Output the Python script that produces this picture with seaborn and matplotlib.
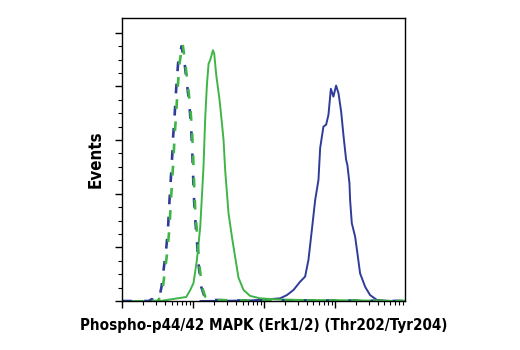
import numpy as np
import pandas as pd
import matplotlib
matplotlib.use("Agg")
import matplotlib.pyplot as plt
from matplotlib.ticker import LogLocator, FixedLocator, NullFormatter
from matplotlib import font_manager
import seaborn as sns

# ---- data (x: log10 fluorescence intensity, y: events) ----
ctrl_green_log = [0.26, 0.50, 0.549, 0.577, 0.610, 0.642, 0.670, 0.690, 0.713, 0.727, 0.741, 0.761,
                  0.783, 0.811, 0.854, 0.892, 0.930, 0.962, 0.986, 1.000, 1.008, 1.018, 1.032,
                  1.065, 1.093, 1.127, 1.173, 1.244, 1.60, 2.5, 3.99]
ctrl_green_cnt = [0.0, 0.0, 1.6, 5.3, 12.4, 19.0, 27.7, 37.7, 47.6, 53.8, 61.3, 68.8,
                  78.7, 88.7, 95.9, 88.7, 80.0, 72.5, 63.8, 56.3, 50.1, 42.6, 34.0,
                  22.8, 12.8, 5.3, 1.6, 0.4, 0.2, 0.2, 0.0]

ctrl_blue_log = [0.0, 0.38, 0.42, 0.46, 0.529, 0.557, 0.590, 0.622, 0.650, 0.670, 0.693, 0.707, 0.721,
                 0.741, 0.763, 0.791, 0.840, 0.882, 0.920, 0.952, 0.976, 0.990, 0.998, 1.008,
                 1.022, 1.055, 1.083, 1.117, 1.163, 1.234, 1.60, 2.5, 3.99]
ctrl_blue_cnt = [0.0, 0.0, 0.7, 0.0, 1.6, 5.3, 12.4, 19.0, 27.7, 37.7, 47.6, 53.8, 61.3,
                 68.8, 78.7, 88.7, 95.0, 88.7, 80.0, 72.5, 63.8, 56.3, 50.1, 42.6,
                 34.0, 22.8, 12.8, 5.3, 1.6, 0.4, 0.2, 0.2, 0.0]

trt_green_log = [0.0, 0.539, 0.906, 0.962, 1.008, 1.056, 1.103, 1.149, 1.173, 1.197, 1.220, 1.244,
                 1.282, 1.300, 1.328, 1.375, 1.408, 1.431, 1.455, 1.501, 1.549, 1.596, 1.642,
                 1.713, 1.806, 1.946, 2.183, 2.511, 3.356, 3.99]
trt_green_cnt = [0.0, 0.0, 1.5, 4.1, 6.7, 15.3, 27.7, 50.1, 68.3, 80.6, 88.4, 89.9,
                 93.5, 92.2, 84.3, 75.0, 66.4, 60.1, 48.5, 32.8, 24.0, 16.2, 8.7,
                 4.1, 1.9, 1.0, 0.6, 0.4, 0.2, 0.0]

trt_blue_log = [1.103, 1.807, 2.088, 2.229, 2.324, 2.417, 2.511, 2.581, 2.628, 2.676, 2.723, 2.769,
                2.793, 2.839, 2.877, 2.910, 2.944, 2.980, 3.018, 3.051, 3.089, 3.121, 3.159,
                3.177, 3.206, 3.215, 3.239, 3.286, 3.318, 3.356, 3.427, 3.497, 3.592, 3.779, 3.99]
trt_blue_cnt = [0.0, 0.2, 0.7, 1.0, 2.2, 4.1, 7.2, 9.1, 15.3, 26.5, 37.7, 45.1,
                57.0, 65.0, 65.7, 69.4, 79.1, 76.2, 80.3, 77.5, 70.6, 61.9, 52.6,
                50.7, 43.9, 37.7, 29.0, 24.0, 17.8, 10.3, 5.3, 2.2, 0.4, 0.0, 0.0]

xlabel = "Phospho-p44/42 MAPK (Erk1/2) (Thr202/Tyr204)"
ylabel = "Events"

BLUE = "#2f3c98"
GREEN = "#3fb548"

sns.set_style("ticks")
plt.rcParams["font.family"] = ["DejaVu Sans"]
plt.rcParams["lines.scale_dashes"] = False

# find a condensed bold face
cond = None
for f in font_manager.fontManager.ttflist:
    n = f.fname.lower()
    if ("condensed" in n or "narrow" in n) and ("bold" in n) and "oblique" not in n and "italic" not in n:
        cond = f.fname
        break
if cond:
    fpx = font_manager.FontProperties(fname=cond, size=10.9)
    fpy = font_manager.FontProperties(fname=cond, size=12.2)
else:
    fpx = font_manager.FontProperties(family="DejaVu Sans", weight="bold", size=9.6)
    fpy = font_manager.FontProperties(family="DejaVu Sans", weight="bold", size=11)

fig = plt.figure(figsize=(5.2, 3.5), dpi=100)
ax = fig.add_axes([0.2346, 0.14, 0.779 - 0.2346, 0.9486 - 0.14])

def df(lg, cnt):
    return pd.DataFrame({"x": 10 ** np.asarray(lg), "y": cnt})

sns.lineplot(data=df(trt_blue_log, trt_blue_cnt), x="x", y="y", ax=ax, color=BLUE,
             lw=1.4, sort=False, estimator=None)
sns.lineplot(data=df(trt_green_log, trt_green_cnt), x="x", y="y", ax=ax, color=GREEN,
             lw=1.4, sort=False, estimator=None)
l1 = sns.lineplot(data=df(ctrl_blue_log, ctrl_blue_cnt), x="x", y="y", ax=ax, color=BLUE,
                  lw=1.9, sort=False, estimator=None).lines[-1]
l1.set_linestyle((0, (7, 9)))
l2 = sns.lineplot(data=df(ctrl_green_log, ctrl_green_cnt), x="x", y="y", ax=ax, color=GREEN,
                  lw=1.9, sort=False, estimator=None).lines[-1]
l2.set_linestyle((8, (7, 9)))

ax.set_xscale("log")
ax.set_xlim(1, 10 ** 3.99)
ax.set_ylim(0, 105.5)
ax.xaxis.set_major_locator(LogLocator(base=10, numticks=10))
ax.xaxis.set_minor_locator(LogLocator(base=10, subs=np.arange(2, 10), numticks=50))
ax.xaxis.set_major_formatter(NullFormatter())
ax.xaxis.set_minor_formatter(NullFormatter())
ax.yaxis.set_major_locator(FixedLocator([0, 20, 40, 60, 80, 100]))
ax.yaxis.set_minor_locator(FixedLocator([v for v in range(5, 100, 5) if v % 20]))
ax.set_yticklabels([])

for s in ax.spines.values():
    s.set_visible(True)
    s.set_linewidth(1.0)
    s.set_color("black")
ax.tick_params(which="major", length=5, width=1, color="black")
ax.tick_params(which="minor", length=3, width=0.8, color="black")

ax.set_xlabel(xlabel, fontproperties=fpx, labelpad=4, color="black")
ax.set_ylabel(ylabel, fontproperties=fpy, labelpad=4, color="black")

fig.savefig("out.png", dpi=100)
